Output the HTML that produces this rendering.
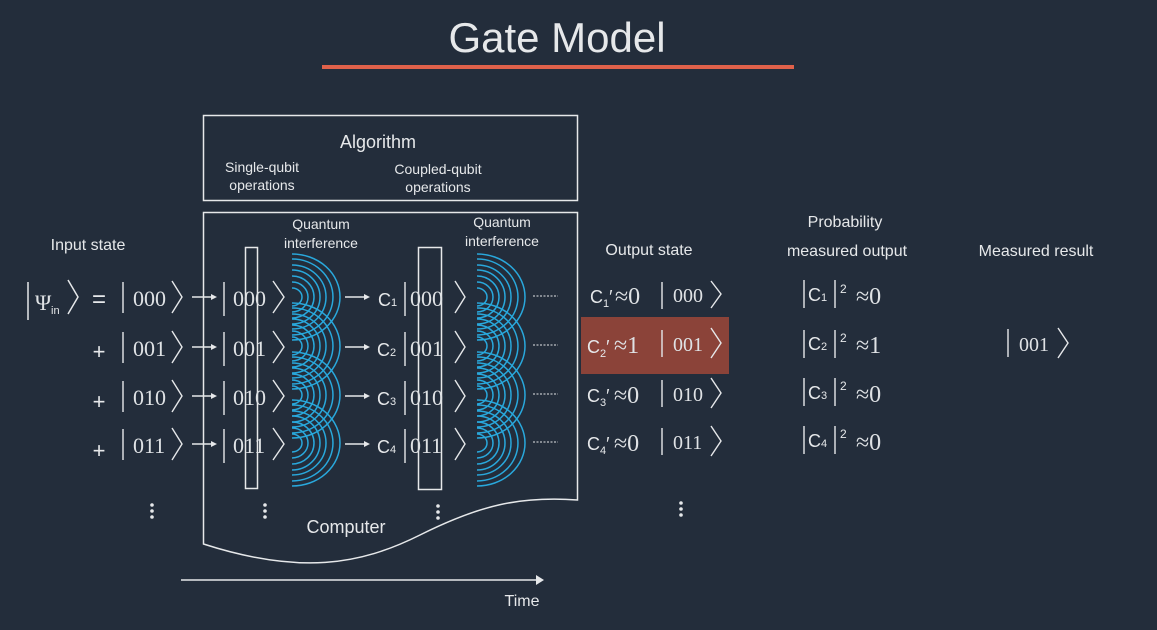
<!DOCTYPE html>
<html><head><meta charset="utf-8"><style>
html,body{margin:0;padding:0;background:#232d3b;}
svg{display:block}
text{font-family:"Liberation Sans",sans-serif;fill:#e6e8ea}
.s{font-family:"Liberation Serif",serif;fill:#dfe2e5}
</style></head><body>
<svg width="1157" height="630" viewBox="0 0 1157 630" xmlns="http://www.w3.org/2000/svg">
<rect width="1157" height="630" fill="#232d3b"/>
<text x="557" y="52" font-size="42" text-anchor="middle" fill="#f2f2f2">Gate Model</text>
<rect x="322" y="65" width="472" height="4" fill="#e0614a"/>
<g fill="none" stroke="#e6e8ea" stroke-width="1.5">
<rect x="203.5" y="115.5" width="374" height="85"/>
<path d="M203.5,212.5 H577.5 V500 C520,496 480,505 420,535 C360,565 300,575 203.5,544 Z"/>
<rect x="245.5" y="247.5" width="12" height="241"/>
<rect x="418.5" y="247.5" width="23" height="242"/>
<path d="M181,580 H538"/>
</g>
<path d="M536,575 L544,580 L536,585 Z" fill="#e6e8ea"/>
<text x="378" y="148" font-size="18" text-anchor="middle">Algorithm</text>
<text x="262" y="172" font-size="14" text-anchor="middle">Single-qubit</text>
<text x="262" y="190" font-size="14" text-anchor="middle">operations</text>
<text x="438" y="174" font-size="14" text-anchor="middle">Coupled-qubit</text>
<text x="438" y="192" font-size="14" text-anchor="middle">operations</text>
<text x="88" y="250" font-size="16" text-anchor="middle">Input state</text>
<text x="321" y="229" font-size="14" text-anchor="middle">Quantum</text>
<text x="321" y="248" font-size="14" text-anchor="middle">interference</text>
<text x="502" y="227" font-size="14" text-anchor="middle">Quantum</text>
<text x="502" y="246" font-size="14" text-anchor="middle">interference</text>
<text x="649" y="255" font-size="16" text-anchor="middle">Output state</text>
<text x="845" y="227" font-size="16" text-anchor="middle">Probability</text>
<text x="847" y="256" font-size="16" text-anchor="middle">measured output</text>
<text x="1036" y="256" font-size="16" text-anchor="middle">Measured result</text>
<text x="346" y="533" font-size="18" text-anchor="middle">Computer</text>
<text x="522" y="606" font-size="16" text-anchor="middle">Time</text>
<rect x="581" y="317" width="148" height="57" fill="#8b4339"/>
<g fill="none" stroke="#29a8dc" stroke-width="1.5">
<path id="w" d="M292,288 a10,9 0 0 1 0,18 M292,282 a16,15 0 0 1 0,30 M292,276 a22,21 0 0 1 0,42 M292,270 a28,27 0 0 1 0,54 M292,265 a34,32 0 0 1 0,64 M292,259 a41,38 0 0 1 0,76 M292,254 a48,43 0 0 1 0,86"/>
<use href="#w" y="49"/><use href="#w" y="98"/><use href="#w" y="146"/>
<use href="#w" x="185"/><use href="#w" x="185" y="49"/><use href="#w" x="185" y="98"/><use href="#w" x="185" y="146"/>
</g>
<g stroke="#e6e8ea" stroke-width="1.5" fill="none">
<path d="M28,282 V320 M68,280 L78,297 L68,314"/>
</g>
<text class="s" x="35" y="310" font-size="22">Ψ</text><text x="51" y="314" font-size="11">in</text>
<text x="99" y="307" font-size="24" text-anchor="middle">=</text>
<text x="99" y="359" font-size="22" text-anchor="middle">+</text>
<text x="99" y="409" font-size="22" text-anchor="middle">+</text>
<text x="99" y="458" font-size="22" text-anchor="middle">+</text>
<g stroke="#e6e8ea" stroke-width="1.4" fill="none">
<path d="M123,282 V313 M172,281 L182,297 L172,313 M224,282 V316 M273,281 L284,297 L273,313 M405,282 V316 M455,281 L465,297 L455,313 M662,282 V309 M711,281 L721,294 L711,308"/>
<path d="M123,332 V363 M172,331 L182,347 L172,363 M224,332 V366 M273,331 L284,347 L273,363 M405,332 V366 M455,331 L465,347 L455,363 M662,330 V357 M711,328 L721,343 L711,358"/>
<path d="M123,381 V412 M172,380 L182,396 L172,412 M224,381 V415 M273,380 L284,396 L273,412 M405,381 V415 M455,380 L465,396 L455,412 M662,380 V407 M711,378 L721,393 L711,408"/>
<path d="M123,429 V460 M172,428 L182,444 L172,460 M224,429 V463 M273,428 L284,444 L273,460 M405,429 V463 M455,428 L465,444 L455,460 M662,428 V455 M711,426 L721,441 L711,456"/>
<path d="M1008,329 V357 M1058,328 L1068,343 L1058,358"/>
<path d="M804,280 V308 M835,280 V308 M804,330 V358 M835,330 V358 M804,378 V406 M835,378 V406 M804,426 V454 M835,426 V454"/>
</g>
<g font-size="22">
<text class="s" x="133" y="306">000</text><text class="s" x="233" y="306">000</text><text class="s" x="410" y="306">000</text><text class="s" x="673" y="302" font-size="20">000</text>
<text class="s" x="133" y="356">001</text><text class="s" x="233" y="356">001</text><text class="s" x="410" y="356">001</text><text class="s" x="673" y="351" font-size="20">001</text>
<text class="s" x="133" y="405">010</text><text class="s" x="233" y="405">010</text><text class="s" x="410" y="405">010</text><text class="s" x="673" y="401" font-size="20">010</text>
<text class="s" x="133" y="453">011</text><text class="s" x="233" y="453">011</text><text class="s" x="410" y="453">011</text><text class="s" x="673" y="449" font-size="20">011</text>
<text class="s" x="1019" y="351" font-size="20">001</text>
</g>
<g stroke="#e6e8ea" stroke-width="1.5">
<path d="M192,297 H212 M192,347 H212 M192,396 H212 M192,444 H212 M345,297 H365 M345,347 H365 M345,396 H365 M345,444 H365"/>
</g>
<g fill="#e6e8ea">
<path d="M211,294 L217,297 L211,300Z M211,344 L217,347 L211,350Z M211,393 L217,396 L211,399Z M211,441 L217,444 L211,447Z M364,294 L370,297 L364,300Z M364,344 L370,347 L364,350Z M364,393 L370,396 L364,399Z M364,441 L370,444 L364,447Z"/>
</g>
<g stroke="#e6e8ea" stroke-width="1" stroke-dasharray="2,1.5">
<path d="M533,296 H558 M533,345 H558 M533,394 H558 M533,442 H558"/>
</g>
<g font-size="18">
<text x="378" y="306">C<tspan font-size="11">1</tspan></text>
<text x="377" y="356">C<tspan font-size="11">2</tspan></text>
<text x="377" y="405">C<tspan font-size="11">3</tspan></text>
<text x="377" y="453">C<tspan font-size="11">4</tspan></text>
<text x="590" y="303">C<tspan font-size="11" dy="4">1</tspan><tspan dy="-4">′</tspan></text>
<text x="587" y="353">C<tspan font-size="11" dy="4">2</tspan><tspan dy="-4">′</tspan></text>
<text x="587" y="402">C<tspan font-size="11" dy="4">3</tspan><tspan dy="-4">′</tspan></text>
<text x="587" y="450">C<tspan font-size="11" dy="4">4</tspan><tspan dy="-4">′</tspan></text>
<text x="808" y="301">C<tspan font-size="11">1</tspan></text>
<text x="808" y="350">C<tspan font-size="11">2</tspan></text>
<text x="808" y="399">C<tspan font-size="11">3</tspan></text>
<text x="808" y="447">C<tspan font-size="11">4</tspan></text>
<text x="840" y="293" font-size="12">2</text>
<text x="840" y="342" font-size="12">2</text>
<text x="840" y="390" font-size="12">2</text>
<text x="840" y="438" font-size="12">2</text>
</g>
<g font-size="24">
<text class="s" x="615" y="304">≈0</text><text class="s" x="614" y="353">≈1</text><text class="s" x="614" y="403">≈0</text><text class="s" x="614" y="451">≈0</text>
<text class="s" x="856" y="304">≈0</text><text class="s" x="856" y="353">≈1</text><text class="s" x="856" y="402">≈0</text><text class="s" x="856" y="450">≈0</text>
</g>
<g fill="#e6e8ea">
<circle cx="152" cy="505" r="1.8"/><circle cx="152" cy="511" r="1.8"/><circle cx="152" cy="517" r="1.8"/>
<circle cx="265" cy="505" r="1.8"/><circle cx="265" cy="511" r="1.8"/><circle cx="265" cy="517" r="1.8"/>
<circle cx="438" cy="506" r="1.8"/><circle cx="438" cy="512" r="1.8"/><circle cx="438" cy="518" r="1.8"/>
<circle cx="681" cy="503" r="1.8"/><circle cx="681" cy="509" r="1.8"/><circle cx="681" cy="515" r="1.8"/>
</g>
</svg>
</body></html>
